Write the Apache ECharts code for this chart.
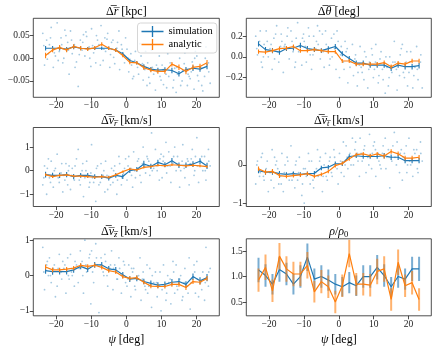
<!DOCTYPE html>
<html>
<head>
<meta charset="utf-8">
<script src="https://cdn.jsdelivr.net/npm/echarts@6/dist/echarts.min.js"></script>
<style>html,body{margin:0;padding:0;background:#fff}#c{width:436px;height:350px}</style>
</head>
<body>
<div id="c"></div>
<script>
// bin centres (deg)
var centers = [-23,-21,-19,-17,-15,-13,-11,-9,-7,-5,-3,-1,1,3,5,7,9,11,13,15,17,19,21,23];
var xTicks = [-20,-10,0,10,20];

// individual particles (x shared by the first five panels)
var ptsX = [-23.8,-23.3,-22.7,-22.2,-21.9,-21.4,-20.8,-20.2,-19.7,-19.1,-18.6,-18.1,-17.8,-17.2,-16.7,-16.3,
  -15.9,-15.4,-14.8,-14.2,-13.7,-13.1,-12.6,-12.2,-11.8,-11.3,-10.6,-10.1,-9.9,-9.3,-8.7,-8.2,
  -7.8,-7.2,-6.6,-6.1,-5.9,-5.3,-4.7,-4.2,-3.8,-3.3,-2.7,-2.1,-1.9,-1.4,-0.8,-0.2,
  0.2,0.7,1.3,1.8,2.1,2.6,3.2,3.9,4.2,4.8,5.3,5.9,6.1,6.7,7.2,7.8,
  8.3,8.8,9.4,9.9,10.2,10.6,11.3,11.8,12.1,12.7,13.3,13.8,14.2,14.6,15.2,15.9,
  16.1,16.7,17.4,17.9,18.2,18.8,19.3,19.7,20.1,20.6,21.2,21.8,22.3,22.7,23.4,23.9,
  -23.5,-22.5,-21.6,-20.5,-19.4,-18.4,-17.5,-16.5,-15.6,-14.6,-13.4,-12.4,-11.5,-10.4,-9.6,-8.5,
  -7.4,-6.4,-5.5,-4.5,-3.6,-2.5,-1.2,-0.5,0.5,1.5,2.4,3.5,4.6,5.5,6.4,7.4,
  8.6,9.6,10.5,11.5,12.5,13.5,14.4,15.5,16.5,17.6,18.5,19.5,20.3,21.5,22.5,23.5];

// dr [kpc]
var simR = [0.022,0.022,0.022,0.020,0.025,0.022,0.021,0.022,0.022,0.022,0.018,0.010,-0.005,-0.010,-0.018,-0.024,-0.026,-0.025,-0.027,-0.034,-0.025,-0.022,-0.024,-0.018];
var anR = [0.006,0.018,0.024,0.018,0.026,0.022,0.020,0.023,0.031,0.022,0.018,0.006,-0.009,-0.010,-0.021,-0.026,-0.029,-0.029,-0.013,-0.020,-0.029,-0.020,-0.018,-0.010];
var errSimR = [0.005,0.005,0.005,0.005,0.005,0.004,0.004,0.004,0.004,0.004,0.004,0.004,0.004,0.004,0.005,0.005,0.005,0.005,0.006,0.006,0.006,0.006,0.006,0.006];
var errAnR = [0.006,0.005,0.005,0.005,0.005,0.005,0.004,0.004,0.004,0.004,0.004,0.004,0.004,0.004,0.005,0.005,0.005,0.005,0.005,0.006,0.006,0.006,0.006,0.006];
var ptsR = [0.055,-0.015,0.040,0.010,0.030,0.068,-0.020,0.005,0.078,0.015,0.045,-0.010,0.000,0.050,0.035,-0.035,
  0.060,0.010,0.030,-0.008,-0.062,0.040,0.018,0.052,0.005,0.048,0.025,-0.018,0.065,0.012,-0.010,0.040,
  0.030,0.072,-0.005,0.045,0.015,0.055,-0.020,0.035,0.040,-0.012,0.022,0.060,-0.025,0.030,0.005,0.045,
  0.020,-0.030,0.010,-0.045,-0.040,0.015,-0.020,0.032,0.005,-0.048,-0.025,-0.060,-0.010,-0.055,0.018,-0.035,
  -0.070,-0.030,0.005,-0.048,-0.015,-0.058,-0.035,0.010,-0.040,0.020,-0.065,-0.022,-0.075,-0.035,0.000,-0.050,
  -0.028,0.012,-0.060,-0.040,-0.045,-0.008,-0.068,0.015,0.005,-0.050,-0.020,-0.072,-0.040,0.025,-0.010,-0.055,
  0.028,-0.002,0.045,0.012,-0.005,0.030,0.062,0.018,0.040,-0.020,0.008,0.035,0.058,0.000,0.028,0.050,
  -0.015,0.020,0.042,0.008,0.002,0.035,0.020,-0.010,0.000,-0.015,-0.005,-0.035,-0.012,0.015,-0.042,-0.020,
  -0.015,-0.040,-0.025,-0.065,-0.010,-0.048,-0.020,-0.060,-0.012,-0.035,-0.030,0.000,-0.038,-0.060,0.000,-0.030];

// dtheta [deg]
var simT = [0.125,0.070,0.060,0.045,0.080,0.085,0.110,0.080,0.070,0.060,0.080,0.100,0.030,-0.015,-0.060,-0.060,-0.080,-0.080,-0.080,-0.110,-0.080,-0.095,-0.095,-0.085];
var anT = [0.050,0.045,0.060,0.080,0.085,0.100,0.060,0.060,0.070,0.060,0.050,0.050,-0.040,-0.040,-0.070,-0.070,-0.070,-0.070,-0.055,-0.095,-0.060,-0.070,-0.040,-0.040];
var errSimT = [0.025,0.025,0.025,0.024,0.024,0.024,0.025,0.024,0.024,0.023,0.023,0.024,0.024,0.024,0.025,0.025,0.025,0.026,0.026,0.026,0.026,0.027,0.027,0.027];
var errAnT = [0.020,0.020,0.020,0.020,0.020,0.020,0.020,0.019,0.019,0.019,0.019,0.019,0.019,0.019,0.020,0.020,0.020,0.020,0.021,0.021,0.021,0.021,0.022,0.022];
var ptsT = [0.20,0.02,0.15,-0.05,-0.10,0.12,0.25,0.00,0.08,-0.12,0.18,0.22,0.30,-0.05,0.10,0.15,
  -0.15,0.12,0.20,-0.02,0.25,0.05,-0.10,0.18,0.33,0.10,-0.08,0.22,0.15,-0.05,0.28,0.02,
  -0.12,0.20,0.08,0.30,0.12,-0.02,0.22,-0.10,0.25,0.05,-0.08,0.18,0.00,0.22,-0.12,0.15,
  -0.20,0.10,-0.05,0.15,0.05,-0.25,-0.10,0.12,-0.18,0.02,-0.28,-0.08,0.10,-0.15,-0.22,0.00,
  -0.30,-0.05,0.08,-0.20,-0.12,0.12,-0.25,-0.02,0.05,-0.22,-0.35,-0.10,-0.28,0.00,-0.15,0.15,
  -0.05,-0.32,-0.18,0.08,0.12,-0.20,-0.05,-0.28,-0.15,0.05,-0.30,-0.10,0.10,-0.22,-0.05,-0.30,
  0.08,0.25,0.00,0.15,0.12,-0.02,0.05,0.22,0.10,0.28,0.15,-0.05,0.05,0.18,0.10,0.20,
  0.02,0.15,0.25,0.05,0.12,-0.02,0.08,0.25,0.02,-0.12,0.08,-0.05,-0.02,-0.15,-0.10,0.05,
  -0.12,0.02,-0.05,-0.18,-0.12,0.00,-0.20,-0.05,-0.12,0.02,-0.15,0.05,-0.05,-0.18,-0.12,0.02];

// dv_r [km/s]
var simVr = [-0.17,-0.20,-0.20,-0.17,-0.25,-0.20,-0.20,-0.25,-0.25,-0.32,-0.20,-0.25,0.00,0.05,0.28,0.18,0.35,0.25,0.42,0.23,0.23,0.28,0.40,0.20];
var anVr = [-0.17,-0.25,-0.20,-0.18,-0.23,-0.23,-0.25,-0.28,-0.25,-0.28,-0.18,-0.04,0.07,0.03,0.14,0.17,0.23,0.20,0.25,0.23,0.20,0.23,0.20,0.17];
var errSimVr = [0.12,0.11,0.11,0.11,0.11,0.10,0.10,0.10,0.10,0.10,0.10,0.10,0.10,0.10,0.14,0.11,0.11,0.11,0.12,0.12,0.12,0.12,0.13,0.13];
var errAnVr = [0.06,0.06,0.06,0.05,0.05,0.05,0.05,0.05,0.05,0.05,0.05,0.05,0.05,0.05,0.05,0.05,0.05,0.05,0.05,0.05,0.06,0.06,0.06,0.06];
var ptsVr = [-0.6,0.2,-1.0,0.5,-0.3,0.4,-0.7,0.1,0.7,-0.5,-0.1,-0.9,-0.2,0.3,-0.6,0.2,
  -0.8,0.1,-0.4,0.5,0.9,-0.6,0.0,-1.1,-0.3,0.4,-0.7,-0.1,1.1,-0.5,-1.3,0.2,
  -0.6,0.3,-0.2,-0.9,0.4,-0.8,-0.3,0.1,-0.5,0.2,-1.0,0.6,0.3,-0.6,-0.1,0.5,
  -0.4,0.6,0.1,-0.7,0.8,-0.3,0.4,-0.2,-0.5,1.0,0.2,0.6,0.5,-0.2,1.6,0.1,
  0.9,0.0,-0.4,0.7,-0.3,0.6,1.2,0.2,0.8,-0.5,0.3,1.0,0.0,0.6,-0.7,0.4,
  1.1,-0.3,0.5,-0.6,0.3,0.9,-0.2,0.6,1.4,-0.5,0.4,0.0,0.6,-0.4,0.9,0.2,
  -0.3,0.1,-0.5,0.0,-0.3,0.3,-0.4,0.0,-0.2,0.2,-0.4,0.3,0.0,-0.5,-0.3,0.1,
  -0.5,0.0,-0.2,-0.6,0.0,-0.4,-0.3,0.1,0.2,-0.2,0.0,0.5,0.3,-0.1,0.4,0.0,
  0.2,0.5,0.4,-0.1,0.2,0.6,0.3,0.0,0.1,0.4,0.5,0.0,0.2,0.6,0.0,0.4];

// dv_t [km/s]
var simVt = [-0.15,-0.19,-0.19,-0.23,-0.25,-0.23,-0.25,-0.23,-0.22,-0.08,-0.06,0.03,0.03,0.22,0.24,0.22,0.22,0.22,0.24,0.20,0.20,0.11,0.11,0.11];
var anVt = [-0.10,-0.19,-0.17,-0.28,-0.30,-0.28,-0.26,-0.23,-0.30,-0.25,-0.17,-0.02,0.04,0.16,0.27,0.29,0.24,0.29,0.23,0.35,0.29,0.18,0.18,0.20];
var errSimVt = [0.07,0.07,0.07,0.07,0.06,0.06,0.06,0.06,0.06,0.06,0.06,0.06,0.06,0.06,0.06,0.06,0.06,0.06,0.07,0.07,0.07,0.07,0.07,0.07];
var errAnVt = [0.06,0.06,0.06,0.06,0.05,0.05,0.05,0.05,0.05,0.05,0.05,0.05,0.05,0.05,0.05,0.05,0.05,0.05,0.06,0.06,0.06,0.06,0.06,0.06];
var ptsVt = [-0.5,0.1,-0.3,0.2,0.3,-0.4,-0.1,-0.7,-0.2,0.4,-0.6,0.0,0.1,-0.5,-0.3,0.3,
  -0.7,0.0,0.2,-0.4,0.5,-0.2,-0.6,0.1,-0.4,0.2,-0.8,-0.1,-1.0,-0.3,0.3,-0.5,
  0.1,-0.6,-0.2,0.4,-0.3,0.2,-0.7,0.0,0.3,-0.4,0.1,-0.2,-0.3,0.4,0.0,-0.5,
  0.3,-0.2,0.6,0.0,0.5,-0.1,0.3,0.7,0.0,0.6,0.3,-0.3,0.7,0.1,0.4,-0.2,
  0.2,0.8,-0.1,0.5,0.6,-0.3,0.3,0.0,-0.1,0.5,0.7,0.2,0.4,-0.6,0.1,0.85,
  0.2,0.6,-0.2,0.4,-0.4,0.3,0.5,0.0,0.7,0.0,-0.3,0.3,0.4,-0.2,0.6,0.1,
  0.0,-0.2,-0.3,0.1,-0.4,0.2,-0.1,-0.5,-0.2,0.1,-0.4,0.0,-0.2,-0.5,-0.1,0.1,
  -0.4,-0.1,0.1,-0.3,-0.3,0.2,0.2,-0.1,0.1,-0.3,0.2,0.0,0.4,0.1,0.3,0.5,
  0.0,0.3,0.4,0.1,0.3,-0.1,0.2,0.5,0.0,0.3,0.2,-0.2,0.1,0.4,-0.1,0.3];

// dv_z [km/s]
var simVz = [0.14,0.11,0.11,0.11,0.16,0.26,0.18,0.30,0.30,0.19,0.16,0.02,-0.10,-0.08,-0.17,-0.22,-0.27,-0.25,-0.19,-0.17,-0.25,-0.03,-0.15,-0.06];
var anVz = [0.24,0.16,0.16,0.18,0.21,0.29,0.26,0.29,0.23,0.14,0.10,-0.03,-0.08,-0.06,-0.19,-0.30,-0.31,-0.31,-0.25,-0.25,-0.34,-0.17,-0.19,-0.08];
var errSimVz = [0.09,0.09,0.08,0.08,0.08,0.08,0.08,0.08,0.08,0.08,0.08,0.08,0.08,0.08,0.08,0.08,0.08,0.08,0.09,0.09,0.09,0.09,0.10,0.10];
var errAnVz = [0.07,0.07,0.06,0.06,0.06,0.06,0.06,0.06,0.06,0.06,0.06,0.06,0.06,0.06,0.06,0.06,0.06,0.06,0.07,0.07,0.07,0.07,0.07,0.07];
var ptsVz = [0.8,-0.4,0.3,0.0,0.5,-0.2,0.2,-0.6,-0.3,0.6,0.1,0.4,0.2,-0.5,0.5,-0.1,
  0.6,0.0,-0.3,0.3,-0.2,0.7,0.4,-0.5,1.0,0.1,0.5,-0.8,0.7,-0.2,0.9,0.3,
  -1.05,0.5,0.1,0.6,0.4,-0.3,0.2,0.7,-0.4,0.3,-0.1,0.5,0.2,-0.5,0.4,-0.2,
  -0.3,0.3,-0.6,0.1,0.2,-0.4,-0.1,0.5,-0.7,0.1,-0.3,0.3,-0.5,0.2,-0.9,-0.2,
  0.1,-0.6,-0.3,-1.0,-0.4,0.3,-0.7,0.0,-0.2,-0.8,0.4,-0.5,0.3,-0.4,-0.1,-0.7,
  -0.6,0.2,-0.3,0.5,-0.95,-0.1,0.3,-0.5,0.4,-0.6,-0.2,0.1,-0.7,0.8,-0.3,0.2,
  0.1,0.4,0.0,0.3,0.2,-0.1,0.3,0.0,0.1,0.4,0.2,0.0,0.3,0.6,0.1,0.5,
  0.3,0.0,0.0,0.3,0.2,-0.1,0.0,0.3,-0.1,0.2,-0.3,0.0,-0.1,-0.4,-0.3,0.0,
  -0.2,0.1,-0.3,-0.5,-0.1,0.1,-0.3,0.0,-0.2,-0.5,-0.2,0.1,-0.1,-0.4,-0.2,0.1];

// rho / rho_0
var simRho = [1.13,1.02,0.85,1.14,1.05,0.85,1.00,1.38,0.95,1.00,0.93,0.85,0.80,0.88,0.82,1.00,1.00,1.18,1.02,0.80,1.00,0.95,1.15,1.15];
var anRho = [0.93,1.18,0.72,1.40,1.15,1.05,1.05,1.22,0.70,0.90,0.80,0.50,0.82,1.45,0.85,0.85,0.83,1.10,1.15,0.55,1.28,0.82,0.88,0.55];
var errSimRho = [0.24,0.22,0.20,0.24,0.22,0.20,0.22,0.27,0.21,0.22,0.21,0.20,0.19,0.21,0.20,0.22,0.22,0.24,0.22,0.19,0.22,0.21,0.24,0.24];
var errAnRho = [0.23,0.25,0.22,0.26,0.25,0.24,0.24,0.26,0.21,0.23,0.22,0.22,0.22,0.27,0.22,0.22,0.22,0.25,0.25,0.22,0.25,0.22,0.23,0.22];

var BLUE = '#1f77b4', ORANGE = '#ff7f0e';
var SERIF = '"Liberation Serif", "DejaVu Serif", serif';

var panels = [
  {sim: simR, an: anR, es: errSimR, ea: errAnR, pts: ptsR, min: -0.086, max: 0.088, ticks: [-0.05, 0, 0.05], dec: 2},
  {sim: simT, an: anT, es: errSimT, ea: errAnT, pts: ptsT, min: -0.39, max: 0.372, ticks: [-0.2, 0, 0.2], dec: 1},
  {sim: simVr, an: anVr, es: errSimVr, ea: errAnVr, pts: ptsVr, min: -1.52, max: 1.83, ticks: [-1, 0, 1], dec: 0},
  {sim: simVt, an: anVt, es: errSimVt, ea: errAnVt, pts: ptsVt, min: -1.09, max: 0.98, ticks: [-1, 0], dec: 0},
  {sim: simVz, an: anVz, es: errSimVz, ea: errAnVz, pts: ptsVz, min: -1.14, max: 1.04, ticks: [-1, 0, 1], dec: 0},
  {sim: simRho, an: anRho, es: errSimRho, ea: errAnRho, pts: null, min: 0.23, max: 1.74, ticks: [0.5, 1.0, 1.5], dec: 1}
];

var grids = [
  {left: 33.3, top: 18.3, width: 186, height: 79},
  {left: 246.3, top: 18.3, width: 185, height: 79},
  {left: 33.3, top: 127.5, width: 186, height: 79},
  {left: 246.3, top: 127.5, width: 185, height: 79},
  {left: 33.3, top: 238.8, width: 186, height: 77},
  {left: 246.3, top: 238.8, width: 185, height: 77}
];

function fmt(dec) {
  return function (v) {
    var s = Math.abs(v).toFixed(dec);
    return (v < -1e-9 ? '\u2212' : '') + s;
  };
}

function pairs(xs, ys) {
  return xs.map(function (x, i) { return [x, ys[i]]; });
}

function errBars(i, vals, errs, color, width, opacity, z) {
  return {
    type: 'custom', xAxisIndex: i, yAxisIndex: i, z: z, silent: true, clip: true,
    data: centers.map(function (c, k) { return [c, vals[k], errs[k]]; }),
    renderItem: function (params, api) {
      var a = api.coord([api.value(0), api.value(1) - api.value(2)]);
      var b = api.coord([api.value(0), api.value(1) + api.value(2)]);
      return {type: 'line', shape: {x1: a[0], y1: a[1], x2: b[0], y2: b[1]},
        style: {stroke: color, lineWidth: width, opacity: opacity}};
    }
  };
}

var xAxes = [], yAxes = [], series = [];
panels.forEach(function (p, i) {
  var g = grids[i];
  g.show = true; g.borderColor = '#222'; g.borderWidth = 0.8; g.containLabel = false;
  xAxes.push({
    type: 'value', gridIndex: i, min: -26.5, max: 26.5, position: 'bottom',
    axisLine: {show: false, onZero: false}, splitLine: {show: false},
    axisTick: {length: 3.5, lineStyle: {color: '#222', width: 0.8}, customValues: xTicks},
    axisLabel: {customValues: xTicks, formatter: fmt(0), margin: 3.5, color: '#222', fontFamily: SERIF, fontSize: 9.5}
  });
  yAxes.push({
    type: 'value', gridIndex: i, min: p.min, max: p.max, position: 'left',
    axisLine: {show: false, onZero: false}, splitLine: {show: false},
    axisTick: {length: 3.5, lineStyle: {color: '#222', width: 0.8}, customValues: p.ticks},
    axisLabel: {customValues: p.ticks, formatter: fmt(p.dec), margin: 3.5, color: '#222', fontFamily: SERIF, fontSize: 9.5}
  });
  if (p.pts) {
    series.push({type: 'scatter', xAxisIndex: i, yAxisIndex: i, z: 1, silent: true,
      symbolSize: 1.8, itemStyle: {color: BLUE, opacity: 0.4}, data: pairs(ptsX, p.pts)});
  }
  var rho = !p.pts;
  series.push({type: 'line', name: 'simulation', xAxisIndex: i, yAxisIndex: i, z: 2,
    showSymbol: false, symbol: 'none', lineStyle: {color: BLUE, width: 1.2}, itemStyle: {color: BLUE},
    data: pairs(centers, p.sim)});
  series.push(errBars(i, p.sim, p.es, BLUE, rho ? 2 : 1.1, rho ? 0.6 : 1, 2));
  series.push({type: 'line', name: 'analytic', xAxisIndex: i, yAxisIndex: i, z: 3,
    showSymbol: false, symbol: 'none', lineStyle: {color: ORANGE, width: 1.2}, itemStyle: {color: ORANGE},
    data: pairs(centers, p.an)});
  series.push(errBars(i, p.an, p.ea, ORANGE, rho ? 2 : 1.1, rho ? 0.6 : 1, 3));
});

var rich = {
  n: {fontFamily: SERIF, fontSize: 12, lineHeight: 15, color: '#000'},
  i: {fontFamily: SERIF, fontSize: 12, fontStyle: 'italic', lineHeight: 15, color: '#000'},
  s: {fontFamily: SERIF, fontSize: 8.5, fontStyle: 'italic', lineHeight: 9, verticalAlign: 'bottom', color: '#000'},
  u: {fontFamily: SERIF, fontSize: 8.5, lineHeight: 9, verticalAlign: 'bottom', color: '#000'}
};
var OL = '\u0305';
var titles = [
  {x: 126.3, y: 11.5, t: '{n|\u0394' + OL + '}{i|r' + OL + '}{n| [kpc]}'},
  {x: 338.8, y: 11.5, t: '{n|\u0394' + OL + '}{i|\u03b8' + OL + '}{n| [deg]}'},
  {x: 126.3, y: 120.5, t: '{n|\u0394' + OL + '}{i|v' + OL + '}{s|r' + OL + '}{n| [km/s]}'},
  {x: 338.8, y: 120.5, t: '{n|\u0394' + OL + '}{i|v' + OL + '}{s|t' + OL + '}{n| [km/s]}'},
  {x: 126.3, y: 231.5, t: '{n|\u0394' + OL + '}{i|v' + OL + '}{s|z' + OL + '}{n| [km/s]}'},
  {x: 338.8, y: 231.5, t: '{i|\u03c1}{n|/}{i|\u03c1}{u|0}'},
  {x: 126.3, y: 340, t: '{i|\u03c8}{n| [deg]}'},
  {x: 338.8, y: 340, t: '{i|\u03c8}{n| [deg]}'}
];

var chart = echarts.init(document.getElementById('c'), null, {renderer: 'canvas'});
chart.setOption({
  animation: false,
  backgroundColor: '#fff',
  grid: grids,
  xAxis: xAxes,
  yAxis: yAxes,
  legend: {
    data: ['simulation', 'analytic'], orient: 'vertical', left: 137.5, top: 23,
    itemWidth: 22, itemHeight: 11, itemGap: 2, padding: [3, 4, 3, 4],
    icon: 'path://M0,4.4h20v1.2h-20z M9.4,0h1.2v10h-1.2z',
    borderColor: '#ccc', borderWidth: 0.8, borderRadius: 3, backgroundColor: 'rgba(255,255,255,0.8)',
    textStyle: {fontFamily: SERIF, fontSize: 10.5, color: '#000'}
  },
  graphic: titles.map(function (t) {
    return {type: 'text', x: t.x, y: t.y, silent: true,
      style: {text: t.t, rich: rich, align: 'center', verticalAlign: 'middle', fill: '#000',
        fontFamily: SERIF, fontSize: 12}};
  }),
  series: series
});
</script>
</body>
</html>
